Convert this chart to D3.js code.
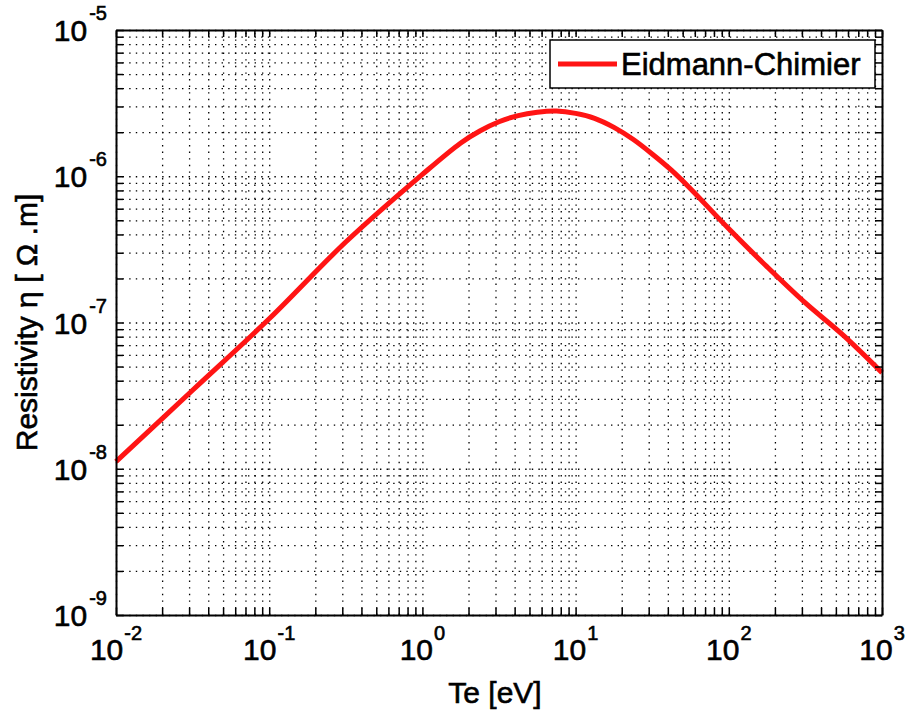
<!DOCTYPE html>
<html>
<head>
<meta charset="utf-8">
<script src="https://cdn.jsdelivr.net/npm/d3@7"></script>
<style>
  body { margin: 0; background: #fff; }
  text { font-family: "Liberation Sans", Arial, sans-serif; fill: #000; stroke: #000; stroke-width: 0.6px; }
</style>
</head>
<body>
<script>
// electron temperature [eV] and resistivity [Ohm.m]
var te  = [0.01, 0.0316, 0.1, 0.316, 1, 1.78, 2.37, 3.16, 4.22, 5.62, 7.5, 10, 13.3, 17.8, 23.7,
           31.6, 42.2, 56.2, 100, 178, 316, 562, 1000];
var eta = [1.12e-8, 3.44e-8, 1.06e-7, 3.55e-7, 1.03e-6, 1.69e-6, 2.04e-6, 2.36e-6, 2.60e-6, 2.74e-6,
           2.79e-6, 2.69e-6, 2.49e-6, 2.16e-6, 1.79e-6, 1.42e-6, 1.10e-6, 8.22e-7, 4.37e-7,
           2.40e-7, 1.36e-7, 8.13e-8, 4.54e-8];
var xMajor = [1e-2, 1e-1, 1e0, 1e1, 1e2, 1e3];
var yMajor = [1e-9, 1e-8, 1e-7, 1e-6, 1e-5];
var seriesName = "Eidmann-Chimier";

var W = 907, H = 713;
var margin = {top: 30, right: 25, bottom: 98, left: 116},
    width = W - margin.left - margin.right,
    height = H - margin.top - margin.bottom;

var x = d3.scaleLog().domain([1e-2, 1e3]).range([0, width]);
var y = d3.scaleLog().domain([1e-9, 1e-5]).range([height, 0]);

var svg = d3.select("body").append("svg")
    .attr("width", W)
    .attr("height", H);

var g = svg.append("g")
    .attr("transform", "translate(" + margin.left + "," + margin.top + ")");

// dotted grid (major + minor)
var xGrid = d3.axisBottom(x).tickValues(x.ticks()).tickSize(-height).tickFormat("");
var yGrid = d3.axisLeft(y).tickValues(y.ticks()).tickSize(-width).tickFormat("");

g.append("g").attr("class", "grid")
    .attr("transform", "translate(0," + height + ")")
    .call(xGrid);
g.append("g").attr("class", "grid")
    .call(yGrid);
g.selectAll(".grid .domain").remove();
g.selectAll(".grid line")
    .attr("stroke", "#000")
    .attr("stroke-width", 1.3)
    .attr("stroke-dasharray", "1.4,5.2");

// curve
var line = d3.line()
    .x(function(d, i) { return x(te[i]); })
    .y(function(d) { return y(d); })
    .curve(d3.curveCatmullRom.alpha(0.5));

g.append("path")
    .datum(eta)
    .attr("fill", "none")
    .attr("stroke", "#ff1414")
    .attr("stroke-width", 5)
    .attr("stroke-linejoin", "round")
    .attr("d", line);

// box axes with inward ticks
function tickAxis(axis) {
  return axis.tickSizeInner(-7).tickSizeOuter(0).tickFormat("");
}
var axes = [
  [tickAxis(d3.axisBottom(x).tickValues(x.ticks())), "translate(0," + height + ")"],
  [tickAxis(d3.axisTop(x).tickValues(x.ticks())), "translate(0,0)"],
  [tickAxis(d3.axisLeft(y).tickValues(y.ticks())), "translate(0,0)"],
  [tickAxis(d3.axisRight(y).tickValues(y.ticks())), "translate(" + width + ",0)"]
];
axes.forEach(function(a) {
  var ax = g.append("g").attr("transform", a[1]).call(a[0]);
  ax.select(".domain").attr("stroke", "#000").attr("stroke-width", 2);
  ax.selectAll(".tick line").attr("stroke", "#000").attr("stroke-width", 1.5);
});

// x tick labels 10^n
var xl = g.append("g").selectAll("text")
    .data(xMajor)
  .enter().append("text")
    .attr("x", function(d) { return x(d); })
    .attr("y", height + 45)
    .attr("text-anchor", "middle")
    .style("font-size", "30px");
xl.append("tspan").text("10");
xl.append("tspan")
    .attr("dx", 1)
    .attr("dy", -20)
    .style("font-size", "20px")
    .text(function(d) { return String(Math.round(Math.log10(d))); });

// y tick labels 10^n
var yl = g.append("g").selectAll("text")
    .data(yMajor)
  .enter().append("text")
    .attr("x", -9)
    .attr("y", function(d) { return y(d) + 11; })
    .attr("text-anchor", "end")
    .style("font-size", "30px");
yl.append("tspan").text("10");
yl.append("tspan")
    .attr("dx", 2)
    .attr("dy", -21)
    .style("font-size", "20px")
    .text(function(d) { return String(Math.round(Math.log10(d))); });

// axis titles
svg.append("text")
    .attr("x", margin.left + width / 2 - 4)
    .attr("y", 703)
    .attr("text-anchor", "middle")
    .style("font-size", "30px")
    .text("Te [eV]");

svg.append("text")
    .attr("transform", "translate(37," + (margin.top + height / 2) + ") rotate(-90)")
    .attr("text-anchor", "middle")
    .style("font-size", "30px")
    .text("Resistivity η [ Ω .m]");

// legend
var lg = svg.append("g").attr("transform", "translate(550,40)");
lg.append("rect")
    .attr("width", 325)
    .attr("height", 48)
    .attr("fill", "#fff")
    .attr("stroke", "#000")
    .attr("stroke-width", 1.5);
lg.append("line")
    .attr("x1", 8).attr("x2", 67)
    .attr("y1", 24).attr("y2", 24)
    .attr("stroke", "#ff1414")
    .attr("stroke-width", 5);
lg.append("text")
    .attr("x", 71)
    .attr("y", 35)
    .style("font-size", "31px")
    .text(seriesName);
</script>
</body>
</html>
